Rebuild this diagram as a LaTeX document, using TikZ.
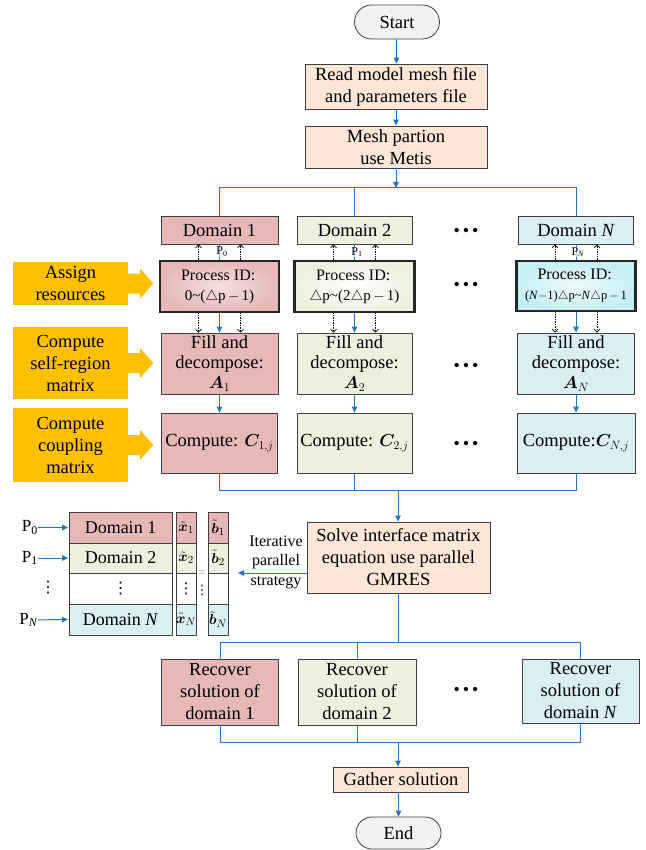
\documentclass[tikz,border=0pt]{standalone}
\usepackage{fontspec}
\setmainfont{Liberation Serif}
\newfontfamily\djv{DejaVu Sans}
\usepackage{bm}
\usetikzlibrary{arrows.meta,shapes.misc}
\definecolor{pinkc}{RGB}{230,185,184}
\definecolor{greenc}{RGB}{235,241,222}
\definecolor{bluec}{RGB}{218,238,243}
\definecolor{peachc}{RGB}{252,230,215}
\definecolor{termc}{RGB}{242,242,242}
\definecolor{orangec}{RGB}{255,192,0}
\definecolor{lineblue}{RGB}{30,118,196}
\newcommand\myfs[2]{\fontsize{#1}{#2}\selectfont}
\newcommand\vdt{{\djv ⋮}}
\begin{document}
\begin{tikzpicture}[x=1pt,y=-1pt,
  box/.style={draw=black!75, line width=0.8pt, align=center, inner sep=0pt, font=\myfs{18.5}{22}},
  sz/.style 2 args={minimum width=#1, minimum height=#2},
  term/.style={box, rounded rectangle, fill=termc},
  pbox/.style={draw=black!85, line width=2.2pt, align=center, inner sep=0pt, font=\myfs{16}{20}},
  obox/.style={fill=orangec, align=center, inner sep=0pt, font=\myfs{18.5}{22}},
  conn/.style={draw=lineblue, line width=1pt},
  arr/.style={conn, -{Triangle[length=6pt,width=5.5pt]}},
  dotarr/.style={draw=black, densely dotted, line width=0.7pt, -{Straight Barb[length=3pt,width=6pt]}},
  dots/.style={inner sep=0pt, font=\myfs{18}{18}},
  plab/.style={inner sep=0pt, font=\myfs{12}{12}},
  cellline/.style={draw=black!75, line width=0.8pt},
  ctext/.style={inner sep=0pt, font=\myfs{18}{20}},
  stext/.style={inner sep=0pt, font=\myfs{15.5}{15.5}}
]
\useasboundingbox (0,0) rectangle (645,850);

% top
\node[term, sz={85}{34}] (start) at (397,22) {Start};
\node[box, fill=peachc, sz={182}{45}] (read) at (396,86.5) {Read model mesh file\\and parameters file};
\node[box, fill=peachc, sz={182}{42}] (mesh) at (396,147) {Mesh partion\\use Metis};
\coordinate (top) at (396,188);

% domains
\node[box, fill=pinkc, sz={117}{28}] (d1) at (219.5,230) {Domain 1};
\node[box, fill=greenc, sz={115}{28}] (d2) at (354.5,230) {Domain 2};
\node[box, fill=bluec, sz={115}{28}] (dN) at (576,230) {Domain \textit{N}};

% process id
\node[pbox, sz={119}{51}, inner color=pinkc!45, outer color=pinkc] (p1) at (219.5,286.5)
  {Process ID:\,\\{\myfs{15}{18}0\textasciitilde($\triangle$p$\,-\,$1)}};
\node[pbox, sz={120}{51}, inner color=white, outer color=greenc] (p2) at (354.5,286.5)
  {Process ID:\,\\{\myfs{15}{18}$\triangle$p\textasciitilde(2$\triangle$p$\,-\,$1)}};
\node[pbox, sz={119}{50}, inner color=bluec!40, outer color=bluec!90!cyan] (pN) at (576,286)
  {Process ID:\,\\{\myfs{12.5}{16}(\textit{N}$-$1)$\triangle$p\textasciitilde\textit{N}$\triangle$p$\,-\,$1}};

% fill
\node[box, fill=pinkc, sz={117}{61}, font=\myfs{18.5}{20}] (f1) at (219.5,363.5) {Fill and\\decompose:\\$\bm{A}_1$};
\node[box, fill=greenc, sz={115}{61}, font=\myfs{18.5}{20}] (f2) at (354.5,363.5) {Fill and\\decompose:\\$\bm{A}_2$};
\node[box, fill=bluec, sz={117}{61}, font=\myfs{18.5}{20}] (fN) at (576,363.5) {Fill and\\decompose:\\$\bm{A}_N$};

% compute
\node[box, fill=pinkc, sz={116}{60}] (c1) at (219.5,443) {Compute: $\bm{C}_{1,j}$};
\node[box, fill=greenc, sz={115}{60}] (c2) at (354.5,443) {Compute: $\bm{C}_{2,j}$};
\node[box, fill=bluec, sz={118}{60}] (cN) at (576,443) {Compute:$\bm{C}_{N,j}$};
\coordinate (mid) at (398,490);

% dots
\node[dots] (k1) at (466,232) {\textbullet\,\textbullet\,\textbullet};
\node[dots] (k2) at (466,286) {\textbullet\,\textbullet\,\textbullet};
\node[dots] (k3) at (466,367) {\textbullet\,\textbullet\,\textbullet};
\node[dots] (k4) at (466,445) {\textbullet\,\textbullet\,\textbullet};
\node[dots] (k5) at (466,691) {\textbullet\,\textbullet\,\textbullet};

% orange side arrows
\node[obox, sz={115}{43}] (o1) at (70.5,283.5) {Assign\\resources};
\node[obox, sz={115}{72}] (o2) at (70.5,363) {Compute\\self-region\\matrix};
\node[obox, sz={115}{74}] (o3) at (70.5,445) {Compute\\coupling\\matrix};
\foreach \o in {o1,o2,o3}{
  \fill[orangec] ([xshift=-0.5pt]\o.east) ++(0,-10) -- ++(12.5,0) -- ++(0,-5) -- ++(13,15)
    -- ++(-13,15) -- ++(0,-5) -- ++(-12.5,0) -- cycle;
}

% solve
\node[box, fill=peachc, sz={183}{71}] (solve) at (398.5,557.5) {Solve interface matrix\\equation use parallel\\GMRES};

% matrix block: cells
\draw[cellline, fill=pinkc]  (69,512) rectangle (172,543);
\draw[cellline, fill=greenc] (69,543) rectangle (172,573);
\draw[cellline, fill=white]  (69,573) rectangle (172,604);
\draw[cellline, fill=bluec]  (69,604) rectangle (172,635);
\draw[cellline, fill=pinkc]  (176,512) rectangle (196,543);
\draw[cellline, fill=greenc] (176,543) rectangle (196,573);
\draw[cellline, fill=white]  (176,573) rectangle (196,604);
\draw[cellline, fill=bluec]  (176,604) rectangle (196,635);
\draw[cellline, fill=pinkc]  (208,512) rectangle (228,543);
\draw[cellline, fill=greenc] (208,543) rectangle (228,573);
\draw[cellline, fill=white]  (208,573) rectangle (228,604);
\draw[cellline, fill=bluec]  (208,604) rectangle (228,635);
% matrix block: texts
\node[ctext] (m1) at (120.5,527.5) {Domain 1};
\node[ctext] (m2) at (120.5,558) {Domain 2};
\node[inner sep=0pt, font=\myfs{16}{16}] (m3) at (120.5,588.5) {\vdt};
\node[ctext] (m4) at (120.5,619.5) {Domain \textit{N}};
\node[stext] (x1) at (186,527.5) {$\tilde{\bm{x}}_1$};
\node[stext] (x2) at (186,558) {$\tilde{\bm{x}}_2$};
\node[inner sep=0pt, font=\myfs{15}{15}] (x3) at (186,588.5) {\vdt};
\node[stext] (x4) at (186,619.5) {$\tilde{\bm{x}}_N$};
\node[stext] (b1) at (218,527.5) {$\tilde{\bm{b}}_1$};
\node[stext] (b2) at (218,558) {$\tilde{\bm{b}}_2$};
\node[stext] (b4) at (218,619.5) {$\tilde{\bm{b}}_N$};
\node[inner sep=0pt, text=black!45, font=\myfs{12}{12}] (eq) at (202,574) {=};
\node[inner sep=0pt, font=\myfs{13}{13}] (eqd) at (202,590) {\vdt};

\node[inner sep=0pt, font=\myfs{17}{17}, anchor=east] (q0) at (38,527.5) {P\textsubscript{0}};
\node[inner sep=0pt, font=\myfs{17}{17}, anchor=east] (q1) at (38,558) {P\textsubscript{1}};
\node[inner sep=0pt, font=\myfs{16}{16}] (q3) at (48,588) {\vdt};
\node[inner sep=0pt, font=\myfs{17}{17}, anchor=east] (qN) at (38,620) {P\textsubscript{\textit{N}}};
\coordinate (e0) at (68,527.5);
\coordinate (e1) at (68,558);
\coordinate (eN) at (68,619.5);
\draw[arr] (q0) -- (e0);
\draw[arr] (q1) -- (e1);
\draw[arr] (qN) -- (eN);

\node[inner sep=0pt, align=center, font=\myfs{16}{19.5}] (iter) at (276,562) {Iterative\\parallel\\strategy};
\coordinate (itend) at (238,573);
\draw[arr] (solve.west |- itend) -- (itend);

% recover
\node[box, fill=pinkc, sz={117}{66}] (r1) at (220,692) {Recover\\solution of\\domain 1};
\node[box, fill=greenc, sz={118}{66}] (r2) at (357,692) {Recover\\solution of\\domain 2};
\node[box, fill=bluec, sz={117}{64}] (rN) at (580.5,691) {Recover\\solution of\\domain \textit{N}};
\coordinate (split) at (398,642);
\coordinate (join) at (398,742);
\node[box, fill=peachc, sz={135}{25}] (gather) at (401,779.5) {Gather solution};
\node[term, sz={85}{32}] (end) at (398.5,833) {End};

% connectors
\draw[arr] (start) -- (read);
\draw[arr] (read) -- (mesh);
\draw[arr] (mesh) -- (top);
\draw[conn] (d1.north) |- (dN.north |- top) -- (dN.north);
\draw[conn] (d2.north) -- (d2.north |- top);

\foreach \i in {1,2,N}{
  \draw[conn] (d\i.south) -- (p\i.north);
  \draw[dotarr] ([xshift=-21pt]p\i.north) -- ([xshift=-21pt]d\i.south);
  \draw[dotarr] ([xshift=21pt]p\i.north) -- ([xshift=21pt]d\i.south);
  \draw[dotarr] ([xshift=-21pt]p\i.south) -- ([xshift=-21pt]f\i.north);
  \draw[dotarr] ([xshift=21pt]p\i.south) -- ([xshift=21pt]f\i.north);
  \draw[arr] (p\i.south) -- (f\i.north);
  \draw[arr] (f\i.south) -- (c\i.north);
}
\node[plab, fill=white, fill opacity=0.6, text opacity=1] (l1) at (222,252) {P\textsubscript{0}};
\node[plab, fill=white, fill opacity=0.6, text opacity=1] (l2) at (357,252) {P\textsubscript{1}};
\node[plab, fill=white, fill opacity=0.6, text opacity=1] (lN) at (578,252) {P\textsubscript{\textit{N}}};

\draw[conn] (c1.south) |- (cN.south |- mid) -- (cN.south);
\draw[conn] (c2.south) -- (c2.south |- mid);
\draw[arr] (mid) -- (mid |- solve.north);

\draw[conn] (solve.south -| split) -- (split);
\draw[conn] (r1.north) |- (rN.north |- split) -- (rN.north);
\draw[conn] (r2.north) -- (r2.north |- split);
\draw[conn] (r1.south) |- (rN.south |- join) -- (rN.south);
\draw[conn] (r2.south) -- (r2.south |- join);
\draw[arr] (join) -- (join |- gather.north);
\draw[arr] (gather.south -| end.north) -- (end.north);
\end{tikzpicture}
\end{document}
